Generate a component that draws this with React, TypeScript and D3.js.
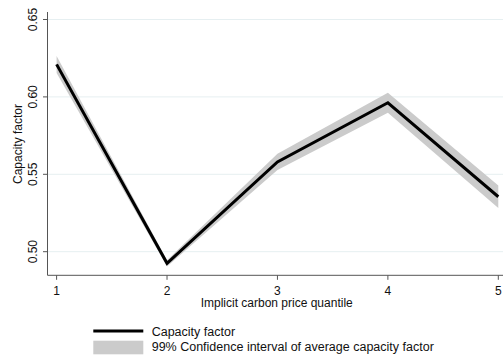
import React from "react";
import * as d3 from "d3";

const quantiles = [1, 2, 3, 4, 5];
const capacityFactor = [0.621, 0.4925, 0.558, 0.5962, 0.5355];
const ciLower = [0.6155, 0.4905, 0.5528, 0.5897, 0.5283];
const ciUpper = [0.6265, 0.4945, 0.5632, 0.6027, 0.5427];
const yTicks = [0.5, 0.55, 0.6, 0.65];
const xTicks = [1, 2, 3, 4, 5];
const legendLabels = ["Capacity factor", "99% Confidence interval of average capacity factor"];

const W = 503;
const H = 358;
const FONT = "'Liberation Sans', Arial, sans-serif";

export default function App() {
  const x = d3.scaleLinear().domain([1, 5]).range([56.6, 498.3]);
  const y = d3.scaleLinear().domain([0.5, 0.65]).range([251.7, 19.5]);
  const data = quantiles.map((q, i) => ({ q, v: capacityFactor[i], lo: ciLower[i], hi: ciUpper[i] }));

  const area = d3
    .area<any>()
    .x((d) => x(d.q))
    .y0((d) => y(d.lo))
    .y1((d) => y(d.hi));
  const line = d3
    .line<any>()
    .x((d) => x(d.q))
    .y((d) => y(d.v));

  const axisX = 47.5;
  const axisY = 275.3;

  return (
    <svg width={W} height={H} style={{ position: "absolute", left: 0, top: 0, background: "#fff" }} fontFamily={FONT}>
      <rect width={W} height={H} fill="#fff" />
      {yTicks.map((t) => (
        <line key={"g" + t} x1={axisX} x2={W} y1={y(t)} y2={y(t)} stroke="#e6eff1" strokeWidth={1} />
      ))}
      <path d={area(data) || ""} fill="#cbcbcb" />
      <path d={line(data) || ""} fill="none" stroke="#000" strokeWidth={3} strokeLinejoin="miter" />
      {/* axes */}
      <line x1={axisX} x2={axisX} y1={12} y2={axisY} stroke="#555" strokeWidth={1} />
      <line x1={axisX} x2={W} y1={axisY} y2={axisY} stroke="#555" strokeWidth={1} />
      {yTicks.map((t) => (
        <g key={"yt" + t}>
          <line x1={axisX - 4.5} x2={axisX} y1={y(t)} y2={y(t)} stroke="#555" />
          <text
            transform={`translate(36.7,${y(t)}) rotate(-90)`}
            textAnchor="middle"
            fontSize={12}
            fill="#111"
          >
            {d3.format(".2f")(t)}
          </text>
        </g>
      ))}
      {xTicks.map((t) => (
        <g key={"xt" + t}>
          <line x1={x(t)} x2={x(t)} y1={axisY} y2={axisY + 4.5} stroke="#555" />
          <text x={x(t)} y={295.3} textAnchor="middle" fontSize={12} fill="#111">
            {t}
          </text>
        </g>
      ))}
      <text transform={`translate(22,144) rotate(-90)`} textAnchor="middle" fontSize={12} fill="#111">
        Capacity factor
      </text>
      <text x={276.7} y={306.7} textAnchor="middle" fontSize={12} fill="#111">
        Implicit carbon price quantile
      </text>
      {/* legend */}
      <line x1={93.3} x2={143.3} y1={331} y2={331} stroke="#000" strokeWidth={3} />
      <text x={151.7} y={335.5} fontSize={12.5} fill="#111">
        {legendLabels[0]}
      </text>
      <rect x={93.3} y={340.7} width={50} height={13.6} fill="#cbcbcb" />
      <text x={151.7} y={350.7} fontSize={12.5} fill="#111">
        {legendLabels[1]}
      </text>
    </svg>
  );
}
